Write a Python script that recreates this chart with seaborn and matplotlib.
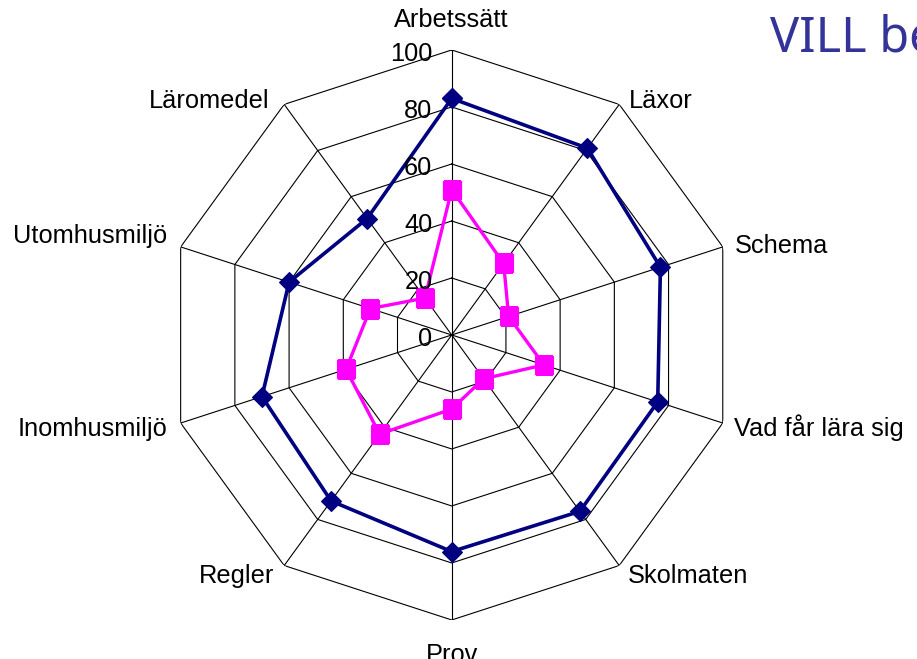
import numpy as np
import pandas as pd
import matplotlib
matplotlib.use("Agg")
import matplotlib.pyplot as plt
import seaborn as sns

# ---- data ----
categories = ["Arbetssätt", "Läxor", "Schema", "Vad får lära sig", "Skolmaten",
              "Prov", "Regler", "Inomhusmiljö", "Utomhusmiljö", "Läromedel"]
navy_values = [83, 81, 77, 76, 76.5, 76, 72, 70, 60, 50.5]
pink_values = [51, 31, 21, 34, 19, 26, 43, 39, 30, 16]
radial_ticks = [0, 20, 40, 60, 80, 100]
title_text = "VILL be"

# ---- style ----
sns.set_theme(style="white")
plt.rcParams["font.family"] = ["Liberation Sans", "DejaVu Sans"]

PX = 72 / 100  # pixels -> points

fig = plt.figure(figsize=(9.17, 6.59), dpi=100)
ax = fig.add_axes([0.1818, 0.0592, 0.6216, 0.865], projection="polar")
ax.set_theta_zero_location("N")
ax.set_theta_direction(-1)
ax.set_ylim(0, 100)
ax.grid(False)
ax.spines["polar"].set_visible(False)
ax.set_xticks([])
ax.set_yticks([])
ax.patch.set_alpha(0)

n = len(categories)
theta = np.arange(n) * 2 * np.pi / n
closed_theta = np.append(theta, 2 * np.pi)

# polygon grid + spokes
for r in radial_ticks[1:]:
    ax.plot(closed_theta, [r] * (n + 1), color="black", lw=0.8, zorder=1)
for t in theta:
    ax.plot([t, t], [0, radial_ticks[-1]], color="black", lw=0.8, zorder=1)

df = pd.DataFrame({
    "theta": closed_theta,
    "navy": navy_values + [navy_values[0]],
    "pink": pink_values + [pink_values[0]],
})

sns.lineplot(data=df, x="theta", y="navy", sort=False, estimator=None, ax=ax,
             color="#000080", lw=2.6, marker="D", markersize=10,
             markeredgecolor="#000080", markeredgewidth=0.8, zorder=3)
sns.lineplot(data=df, x="theta", y="pink", sort=False, estimator=None, ax=ax,
             color="#FF00FF", lw=2.4, marker="s", markersize=12.5,
             markeredgecolor="#FF00FF", markeredgewidth=0.8, zorder=4)
ax.set_xlabel("")
ax.set_ylabel("")

# radial tick labels
for v in radial_ticks:
    ax.annotate(str(v), xy=(0, v), xytext=(-19.3 * PX, -11 * PX),
                textcoords="offset points", ha="right", va="baseline",
                fontsize=18.3, color="black", zorder=5)

# category labels (offsets in px: dx, dy(up), ha)
label_layout = [
    (0, 22.7, "center"),
    (10, -4, "left"),
    (11.7, -6.6, "left"),
    (11.7, -12.7, "left"),
    (8.5, -17.3, "left"),
    (0, -42, "center"),
    (-9.6, -17.3, "right"),
    (-13.3, -12.7, "right"),
    (-13.3, 3.4, "right"),
    (-15, -4, "right"),
]
for t, lab, (dx, dy, ha) in zip(theta, categories, label_layout):
    ax.annotate(lab, xy=(t, radial_ticks[-1]), xytext=(dx * PX, dy * PX),
                textcoords="offset points", ha=ha, va="baseline",
                fontsize=18.3, color="black", annotation_clip=False)

fig.text(770 / 917, 1 - 51.7 / 659, title_text, ha="left", va="baseline",
         fontsize=35, color="#333399", family=["Noto Sans", "DejaVu Sans"])

fig.savefig("out.png", dpi=100, facecolor="white")
